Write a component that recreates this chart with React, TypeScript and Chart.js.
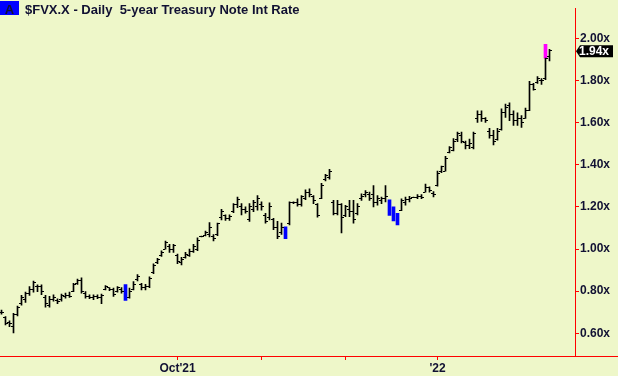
import React, { useEffect, useRef } from 'react';
import { Chart, registerables } from 'chart.js';

Chart.register(...registerables);

// ---- data (daily OHLC of $FVX.X, Aug 2021 - Feb 2022) ----
const opens = [
  0.70, 0.675, 0.65, 0.63, 0.69, 0.74, 0.76, 0.79, 0.81, 0.82,
  0.82, 0.77, 0.73, 0.76, 0.755, 0.76, 0.775, 0.78, 0.80, 0.835,
  0.85, 0.79, 0.775, 0.77, 0.775, 0.77, 0.81, 0.815, 0.81, 0.80,
  0.81, null, 0.77, 0.81, 0.855, 0.83, 0.815, 0.82, 0.89, 0.935,
  0.97, 1.00, 1.01, 1.00, 0.97, 0.935, 0.96, 0.97, 0.99, 1.00,
  1.06, 1.065, 1.07, 1.06, 1.07, 1.15, 1.16, 1.145, 1.18, 1.21,
  1.20, 1.19, 1.14, 1.19, 1.20, 1.21, 1.16, 1.15, 1.14, 1.10,
  1.08, null, 1.12, 1.22, 1.22, 1.21, 1.24, 1.27, 1.25, 1.21,
  1.24, 1.33, 1.34, 1.22, 1.17, 1.21, 1.16, 1.19, 1.18, 1.17,
  1.24, 1.26, 1.26, 1.26, 1.22, 1.23, 1.24, null, null, null,
  1.185, 1.22, 1.235, 1.245, 1.245, 1.25, 1.27, 1.29, 1.265, 1.30,
  1.37, 1.37, 1.46, 1.47, 1.52, 1.54, 1.505, 1.49, 1.48, 1.62,
  1.64, 1.62, 1.56, 1.54, 1.52, 1.57, 1.65, 1.68, 1.64, 1.61,
  1.62, 1.62, 1.66, 1.78, 1.79, 1.80, 1.81, 1.915,
];
const highs = [
  0.710, 0.679, 0.659, 0.695, 0.729, 0.780, 0.795, 0.822, 0.848, 0.830,
  0.830, 0.780, 0.775, 0.783, 0.764, 0.786, 0.791, 0.795, 0.837, 0.857,
  0.863, 0.798, 0.783, 0.783, 0.783, 0.786, 0.826, 0.817, 0.814, 0.822,
  0.817, null, 0.815, 0.845, 0.879, 0.837, 0.832, 0.868, 0.930, 0.956,
  0.992, 1.038, 1.022, 1.022, 0.976, 0.961, 0.984, 1.000, 1.022, 1.053,
  1.062, 1.085, 1.126, 1.069, 1.123, 1.188, 1.162, 1.162, 1.216, 1.247,
  1.216, 1.200, 1.216, 1.231, 1.254, 1.224, 1.170, 1.219, 1.146, 1.131,
  1.123, null, 1.224, 1.224, 1.239, 1.254, 1.281, 1.286, 1.254, 1.216,
  1.312, 1.355, 1.378, 1.231, 1.231, 1.216, 1.208, 1.231, 1.231, 1.216,
  1.262, 1.278, 1.270, 1.301, 1.254, 1.247, 1.301, null, null, null,
  1.239, 1.247, 1.250, 1.247, 1.259, 1.259, 1.309, 1.296, 1.273, 1.370,
  1.394, 1.440, 1.487, 1.525, 1.556, 1.555, 1.513, 1.522, 1.555, 1.657,
  1.657, 1.624, 1.573, 1.564, 1.573, 1.666, 1.689, 1.694, 1.657, 1.647,
  1.634, 1.670, 1.796, 1.787, 1.819, 1.810, 1.907, 1.949,
];
const lows = [
  0.690, 0.640, 0.631, 0.602, 0.682, 0.733, 0.746, 0.780, 0.795, 0.798,
  0.783, 0.724, 0.724, 0.752, 0.740, 0.752, 0.767, 0.770, 0.798, 0.832,
  0.790, 0.767, 0.764, 0.760, 0.764, 0.740, 0.806, 0.802, 0.775, 0.795,
  0.790, null, 0.767, 0.806, 0.848, 0.806, 0.806, 0.817, 0.883, 0.930,
  0.965, 0.999, 0.984, 0.984, 0.930, 0.925, 0.956, 0.965, 0.984, 0.992,
  1.058, 1.062, 1.058, 1.038, 1.064, 1.138, 1.136, 1.136, 1.173, 1.197,
  1.162, 1.170, 1.131, 1.177, 1.185, 1.185, 1.123, 1.138, 1.092, 1.049,
  1.069, null, 1.115, 1.216, 1.203, 1.203, 1.235, 1.247, 1.216, 1.151,
  1.239, 1.324, 1.332, 1.162, 1.162, 1.077, 1.154, 1.154, 1.123, 1.162,
  1.231, 1.247, 1.231, 1.200, 1.208, 1.216, 1.224, null, null, null,
  1.182, 1.208, 1.224, 1.244, 1.239, 1.239, 1.270, 1.270, 1.247, 1.298,
  1.363, 1.370, 1.456, 1.466, 1.510, 1.504, 1.476, 1.477, 1.476, 1.601,
  1.606, 1.601, 1.527, 1.494, 1.517, 1.564, 1.625, 1.610, 1.587, 1.587,
  1.578, 1.620, 1.657, 1.754, 1.787, 1.782, 1.805, 1.893,
];
const closes = [
  0.70, 0.645, 0.645, 0.69, 0.72, 0.77, 0.79, 0.81, 0.84, 0.82,
  0.80, 0.74, 0.76, 0.77, 0.75, 0.78, 0.78, 0.775, 0.83, 0.85,
  0.80, 0.775, 0.77, 0.775, 0.77, 0.78, 0.82, 0.81, 0.785, 0.815,
  0.80, null, 0.80, 0.83, 0.87, 0.815, 0.82, 0.86, 0.92, 0.95,
  0.985, 1.03, 1.00, 1.015, 0.94, 0.95, 0.975, 0.99, 1.01, 1.04,
  1.06, 1.08, 1.10, 1.05, 1.12, 1.18, 1.145, 1.155, 1.21, 1.235,
  1.19, 1.18, 1.20, 1.22, 1.24, 1.20, 1.13, 1.20, 1.10, 1.06,
  1.10, null, 1.22, 1.22, 1.21, 1.25, 1.27, 1.26, 1.23, 1.16,
  1.30, 1.35, 1.37, 1.17, 1.21, 1.15, 1.20, 1.18, 1.14, 1.20,
  1.25, 1.27, 1.24, 1.22, 1.24, 1.24, 1.25, null, null, null,
  1.23, 1.235, 1.24, 1.245, 1.25, 1.245, 1.29, 1.28, 1.26, 1.36,
  1.39, 1.43, 1.48, 1.51, 1.55, 1.51, 1.49, 1.50, 1.55, 1.64,
  1.62, 1.61, 1.54, 1.51, 1.56, 1.65, 1.67, 1.64, 1.61, 1.62,
  1.60, 1.66, 1.78, 1.76, 1.81, 1.80, 1.905, 1.944,
];

// highlighted (coloured) price bars
const markIndex = [31, 71, 97, 98, 99, 136];
const markLow = [0.756, 1.049, 1.160, 1.134, 1.115, 1.907];
const markHigh = [0.831, 1.105, 1.234, 1.201, 1.170, 1.972];
const markKind = ['down', 'down', 'down', 'down', 'down', 'up'];

// axes
const monthIndex = [44, 65, 86, 109];
const monthLabels = ["Oct'21", '', '', "'22"];
const yTickValues = [0.6, 0.8, 1.0, 1.2, 1.4, 1.6, 1.8, 2.0];
const lastValue = 1.94;
const titleBadge = 'A';
const titleText = '$FVX.X - Daily  5-year Treasury Note Int Rate';

// ---- styles ----
const BG = '#eef7c9';
const RED = '#ff0000';
const INK = '#111133';
const FONT = "'Liberation Sans', Arial, Helvetica, sans-serif";
const MARK_COLORS: Record<string, string> = { down: '#0000ff', up: '#ff00ff' };

const ohlcPlugin = {
  id: 'ohlcTicks',
  afterDatasetsDraw(chart: any) {
    const { ctx } = chart;
    const x = chart.scales.x;
    const y = chart.scales.y;
    ctx.save();
    ctx.fillStyle = '#000000';
    opens.forEach((o, i) => {
      if (o == null || closes[i] == null) return;
      const px = Math.round(x.getPixelForValue(i) - 0.5);
      ctx.fillRect(px - 2, Math.round(y.getPixelForValue(o) - 0.5), 2, 1);
      ctx.fillRect(px + 1, Math.round(y.getPixelForValue(closes[i] as number) - 0.5), 2, 1);
    });
    ctx.restore();
  },
  afterDraw(chart: any) {
    const { ctx, chartArea, width } = chart;
    const y = chart.scales.y;
    ctx.save();
    // extend the bottom axis line under the price scale
    ctx.strokeStyle = RED;
    ctx.lineWidth = 1;
    const by = Math.round(chartArea.bottom) + 0.5;
    ctx.beginPath();
    ctx.moveTo(chartArea.right, by);
    ctx.lineTo(width, by);
    ctx.stroke();
    // last value tag
    const yc = y.getPixelForValue(lastValue);
    const l = chartArea.right + 1;
    const r = width - 5;
    const h = 6;
    ctx.fillStyle = '#000000';
    ctx.beginPath();
    ctx.moveTo(l, yc);
    ctx.lineTo(l + 4, yc - h);
    ctx.lineTo(r, yc - h);
    ctx.lineTo(r, yc + h);
    ctx.lineTo(l + 4, yc + h);
    ctx.closePath();
    ctx.fill();
    ctx.fillStyle = '#ffffff';
    ctx.font = `bold 12px ${FONT}`;
    ctx.textBaseline = 'middle';
    ctx.textAlign = 'left';
    ctx.fillText(lastValue.toFixed(2) + 'x', chartArea.right + 4, yc + 0.5);
    ctx.restore();
  },
};

export default function App() {
  const canvasRef = useRef<HTMLCanvasElement | null>(null);

  useEffect(() => {
    if (!canvasRef.current) return;
    const barData: any[] = [];
    highs.forEach((hv, i) => {
      if (hv == null || lows[i] == null) return;
      barData.push({ x: i, y: [lows[i], hv] });
    });
    const markData = markIndex.map((idx, k) => ({ x: idx, y: [markLow[k], markHigh[k]] }));
    const markColors = markKind.map((k) => MARK_COLORS[k]);

    const chart = new Chart(canvasRef.current, {
      type: 'bar',
      data: {
        datasets: [
          {
            data: barData,
            backgroundColor: '#000000',
            borderWidth: 0,
            barThickness: 1,
            grouped: false,
          } as any,
          {
            data: markData,
            backgroundColor: markColors,
            borderWidth: 0,
            barThickness: 3,
            grouped: false,
          } as any,
        ],
      },
      options: {
        animation: false,
        responsive: false,
        devicePixelRatio: 1,
        layout: { padding: 0 },
        plugins: {
          legend: { display: false },
          tooltip: { enabled: false },
          title: { display: false },
        },
        scales: {
          x: {
            type: 'linear',
            min: -0.375,
            max: 143.375,
            offset: false,
            grid: {
              offset: false,
              drawOnChartArea: false,
              drawTicks: true,
              tickLength: 4,
              color: RED,
            },
            border: { display: true, color: RED, width: 1 },
            afterBuildTicks: (scale: any) => {
              scale.ticks = monthIndex.map((v) => ({ value: v }));
            },
            afterFit: (scale: any) => {
              scale.height = 20;
            },
            ticks: {
              autoSkip: false,
              maxRotation: 0,
              minRotation: 0,
              padding: 1,
              color: INK,
              font: { family: FONT, size: 12, weight: 'bold' },
              callback: (v: any) => {
                const k = monthIndex.indexOf(Number(v));
                return k >= 0 ? monthLabels[k] : '';
              },
            },
          },
          y: {
            type: 'linear',
            position: 'right',
            min: 0.4919,
            max: 2.1439,
            grid: {
              drawOnChartArea: false,
              drawTicks: true,
              tickLength: 4,
              color: RED,
            },
            border: { display: true, color: RED, width: 1 },
            afterBuildTicks: (scale: any) => {
              scale.ticks = yTickValues.map((v) => ({ value: v }));
            },
            afterFit: (scale: any) => {
              scale.width = 43;
            },
            ticks: {
              padding: 1,
              color: INK,
              font: { family: FONT, size: 12, weight: 'bold' },
              callback: (v: any) => Number(v).toFixed(2) + 'x',
            },
          },
        },
      } as any,
      plugins: [ohlcPlugin],
    });
    return () => chart.destroy();
  }, []);

  return (
    <div
      style={{
        position: 'fixed',
        left: 0,
        top: 0,
        width: 618,
        height: 376,
        background: BG,
        overflow: 'hidden',
      }}
    >
      <canvas ref={canvasRef} width={618} height={376} style={{ position: 'absolute', left: 0, top: 0 }} />
      <div
        style={{
          position: 'absolute',
          left: 0,
          top: 1,
          width: 19,
          height: 14,
          background: '#0000ff',
          color: INK,
          font: `bold 13px ${FONT}`,
          lineHeight: '17px',
          textAlign: 'center',
        }}
      >
        {titleBadge}
      </div>
      <div
        style={{
          position: 'absolute',
          left: 25,
          top: 2,
          color: INK,
          font: `bold 13px ${FONT}`,
          lineHeight: '15px',
          whiteSpace: 'pre',
        }}
      >
        {titleText}
      </div>
    </div>
  );
}
